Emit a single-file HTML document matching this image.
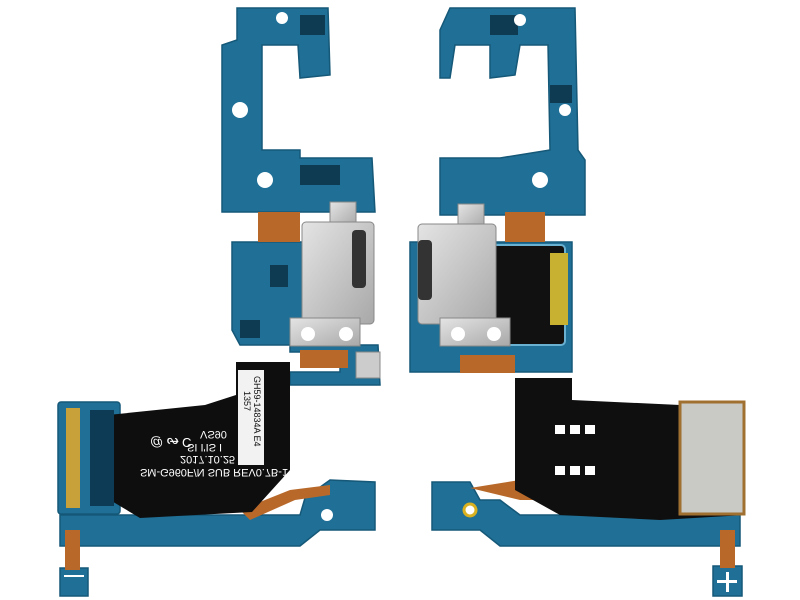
<!DOCTYPE html>
<html><head><style>
html,body{margin:0;padding:0;background:#fff;width:800px;height:600px;overflow:hidden}
svg{display:block}
text{font-family:"Liberation Sans",sans-serif}
</style></head><body>
<svg width="800" height="600" viewBox="0 0 800 600" xmlns="http://www.w3.org/2000/svg">
<defs>
<linearGradient id="sil" x1="0" y1="0" x2="1" y2="1"><stop offset="0" stop-color="#e4e4e4"/><stop offset="1" stop-color="#a8a8a8"/></linearGradient>
</defs>
<g fill="#1f6f96" stroke="#155878" stroke-width="1.5">
<path d="M237,8 L328,8 L330,75 L300,78 L298,45 L262,45 L262,150 L300,150 L300,158 L372,158 L375,212 L222,212 L222,45 L237,40 Z"/>
<path d="M232,242 L305,242 L305,345 L240,345 L232,330 Z"/>
<path d="M290,345 L378,345 L380,385 L290,385 L290,372 L340,372 L340,352 L290,352 Z"/>
<rect x="58" y="402" width="62" height="112" rx="3"/>
<path d="M60,515 L300,515 L305,498 L330,480 L375,482 L375,530 L320,530 L300,546 L60,546 Z"/>
<rect x="60" y="568" width="28" height="28"/>
<path d="M450,8 L575,8 L578,150 L585,160 L585,215 L440,215 L440,158 L500,158 L550,150 L548,45 L520,45 L515,75 L490,78 L490,45 L455,45 L450,78 L440,78 L440,30 Z"/>
<path d="M410,242 L572,242 L572,372 L410,372 Z"/>
<path d="M432,482 L470,482 L480,500 L500,500 L520,515 L740,515 L740,546 L500,546 L480,530 L432,530 Z"/>
<rect x="713" y="566" width="29" height="30"/>
</g>
<g fill="#0e3a52">
<rect x="270" y="265" width="18" height="22"/><rect x="240" y="320" width="20" height="18"/><rect x="300" y="165" width="40" height="20"/><rect x="300" y="15" width="25" height="20"/><rect x="490" y="15" width="28" height="20"/><rect x="550" y="85" width="22" height="18"/>
</g>
<g fill="#b8692a">
<rect x="258" y="212" width="42" height="30"/>
<rect x="505" y="212" width="40" height="30"/>
<rect x="65" y="530" width="15" height="40"/>
<rect x="720" y="530" width="15" height="38"/>
<path d="M240,510 L290,490 L330,485 L330,495 L295,500 L250,520 Z"/>
<path d="M470,488 L520,480 L545,500 L520,500 Z"/>
<rect x="300" y="350" width="48" height="18"/>
<rect x="460" y="355" width="55" height="18"/>
</g>
<path d="M236,362 L290,362 L290,470 L252,512 L140,518 L110,500 L108,415 L205,405 L236,395 Z" fill="#0e0e0e"/>
<rect x="238" y="370" width="26" height="95" fill="#f2f2f2"/>
<path d="M515,378 L572,378 L572,400 L680,405 L745,402 L745,515 L660,520 L560,515 L515,490 Z" fill="#0f0f0f"/>
<g fill="#fff"><rect x="555" y="425" width="10" height="9"/><rect x="570" y="425" width="10" height="9"/><rect x="585" y="425" width="10" height="9"/><rect x="555" y="466" width="10" height="9"/><rect x="570" y="466" width="10" height="9"/><rect x="585" y="466" width="10" height="9"/></g>
<rect x="680" y="402" width="64" height="112" fill="#c9c9c6" stroke="#a07030" stroke-width="3"/>
<rect x="445" y="245" width="120" height="100" fill="#111" stroke="#6ab0d0" stroke-width="2" rx="4"/>
<rect x="550" y="253" width="18" height="72" fill="#c8b030"/>
<rect x="330" y="202" width="26" height="24" fill="url(#sil)" stroke="#888"/>
<rect x="302" y="222" width="72" height="102" fill="url(#sil)" stroke="#888" rx="4"/>
<rect x="352" y="230" width="14" height="58" fill="#333" rx="4"/>
<rect x="290" y="318" width="70" height="28" fill="url(#sil)" stroke="#888"/>
<circle cx="308" cy="334" r="7" fill="#fff"/><circle cx="346" cy="334" r="7" fill="#fff"/>
<rect x="356" y="352" width="24" height="26" fill="#ccc" stroke="#888"/>
<rect x="458" y="204" width="26" height="24" fill="url(#sil)" stroke="#888"/>
<rect x="418" y="224" width="78" height="100" fill="url(#sil)" stroke="#888" rx="4"/>
<rect x="418" y="240" width="14" height="60" fill="#333" rx="4"/>
<rect x="440" y="318" width="70" height="28" fill="url(#sil)" stroke="#888"/>
<circle cx="458" cy="334" r="7" fill="#fff"/><circle cx="494" cy="334" r="7" fill="#fff"/>
<rect x="66" y="408" width="14" height="100" fill="#c9a13a"/>
<rect x="90" y="410" width="24" height="96" fill="#0d3b55"/>
<g fill="#fff"><circle cx="240" cy="110" r="8"/><circle cx="282" cy="18" r="6"/><circle cx="265" cy="180" r="8"/><circle cx="520" cy="20" r="6"/><circle cx="540" cy="180" r="8"/><circle cx="565" cy="110" r="6"/><circle cx="327" cy="515" r="6"/><circle cx="470" cy="510" r="6" stroke="#d8b020" stroke-width="3"/></g>
<rect x="64" y="575" width="20" height="2" fill="#fff"/><rect x="726" y="572" width="3" height="20" fill="#fff"/><rect x="717" y="580" width="20" height="3" fill="#fff"/>
<g fill="#fff" font-size="11">
<text transform="translate(140,469) scale(1,-1)" textLength="148">SM-G960F/N SUB REV0.7B-1</text>
<text transform="translate(180,456) scale(1,-1)">2017.10.25</text>
<text transform="translate(187,444) scale(1,-1)">SI I'IS I</text>
<text transform="translate(200,431) scale(1,-1)">VS90</text>
<text transform="translate(150,438) scale(1,-1)" font-size="13">@ ᔕ̶ C</text>
</g>
<g fill="#111" font-size="9" transform="rotate(90 251 417)"><text x="210" y="414">GH59-14834A E4</text><text x="225" y="424">1357</text></g>
</svg>
</body></html>
